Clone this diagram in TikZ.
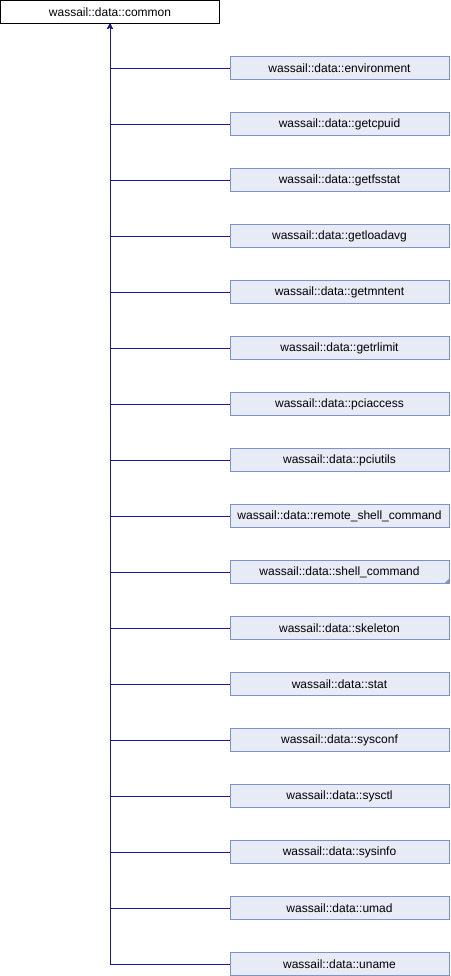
\documentclass[tikz,border=0pt]{standalone}
\usepackage{fontspec}
\setmainfont{Liberation Sans}
\usetikzlibrary{arrows.meta,%
                shapes,positioning}
\definecolor{edgeblue}{HTML}{1A1A9A}
\definecolor{boxfill}{HTML}{E6EBF5}
\definecolor{boxline}{HTML}{7B95CB}

\begin{document}
\begin{tikzpicture}[x=1pt,y=-1pt,
    base/.style={rectangle,draw=black,fill=white,minimum width=219pt,minimum height=23pt,
        inner sep=0pt,font=\fontsize{12}{14}\selectfont},
    derived/.style={base,draw=boxline,fill=boxfill},
    inherit/.style={draw=edgeblue,line width=0.8pt,-{Stealth[length=5pt,width=5pt]}}]
\useasboundingbox (0,0) rectangle (450,976);
%\draw[help lines] (0,0) grid (450,976);
\node[base] (common) at (110,12) {wassail::data::common};
\foreach \cls [count=\i] in {environment,getcpuid,getfsstat,getloadavg,getmntent,getrlimit,%
        pciaccess,pciutils,remote\_shell\_command,shell\_command,skeleton,stat,%
        sysconf,sysctl,sysinfo,umad,uname}
{
  \node[derived] (c\i) at (339.5,{68+56*(\i-1)}) {wassail::data::\cls};
  \draw[inherit] (c\i.west) -| (common.south);
}
% truncated marker
\fill[boxline] (c10.south east) -- ++(-5,0) -- ++(5,-5) -- cycle;
\end{tikzpicture}
\end{document}
